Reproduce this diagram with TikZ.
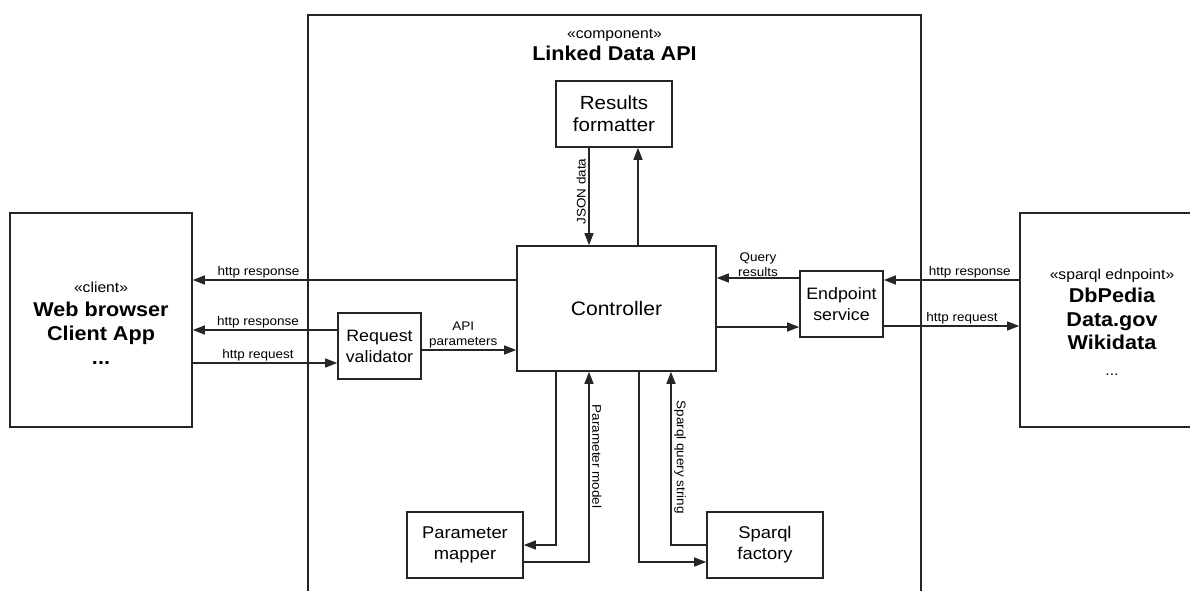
\documentclass[tikz,border=0pt]{standalone}
\usepackage{fontspec}
\setmainfont{Liberation Sans}[FakeStretch=1.08]
\usetikzlibrary{arrows.meta}
\begin{document}
\begin{tikzpicture}[x=1pt,y=-1pt,
  box/.style={draw=black!85, line width=1.6pt, fill=white, align=center,
    inner sep=0pt, font=\fontsize{17}{21}\selectfont},
  frame/.style={draw=black!85, line width=1.6pt, inner sep=0pt},
  arr/.style={draw=black!85, line width=1.3pt, -{Triangle[length=12pt,width=9pt]}},
  lbl/.style={font=\fontsize{12.5}{14}\selectfont, inner sep=1.5pt, align=center},
  vlbl/.style={lbl, anchor=south, inner sep=2.5pt},
]
\useasboundingbox (0,0) rectangle (1190,590);

% component frame (open at the bottom edge of the page)
\node[frame, minimum width=613pt, minimum height=605pt] (api) at (614.5,317.5) {};
\node[align=center, font=\fontsize{14.5}{21}\selectfont] (apititle) at (614.5,45)
  {«component»\\[1pt]{\fontsize{20}{22}\selectfont\bfseries Linked Data API}};

% outer parties
\node[box, minimum width=182pt, minimum height=214pt] (client) at (101,320) {};
\node[align=center, font=\fontsize{20}{24}\selectfont\bfseries] (clienttext) at (101,323)
  {{\fontsize{14.5}{24}\selectfont\mdseries «client»}\\Web browser\\Client App\\...};

\node[box, minimum width=184pt, minimum height=214pt] (sparql) at (1112,320) {};
\node[align=center, font=\fontsize{20}{23.5}\selectfont\bfseries] (sparqltext) at (1112,322)
  {{\fontsize{14.5}{23.5}\selectfont\mdseries «sparql ednpoint»}\\DbPedia\\Data.gov\\Wikidata\\[2pt]{\fontsize{14.5}{23.5}\selectfont\mdseries ...}};

% inner components
\node[box, minimum width=83pt, minimum height=66pt, font=\fontsize{16.5}{21}\selectfont] (reqval) at (379.5,346) {Request\\validator};
\node[box, minimum width=199pt, minimum height=125pt, font=\fontsize{19.5}{22}\selectfont] (ctrl) at (616.5,308.5) {Controller};
\node[box, minimum width=116pt, minimum height=66pt, font=\fontsize{19}{22}\selectfont] (fmt) at (614,114) {Results\\formatter};
\node[box, minimum width=83pt, minimum height=66pt, font=\fontsize{16.5}{21}\selectfont] (endp) at (841.5,304) {Endpoint\\service};
\node[box, minimum width=116pt, minimum height=66pt] (mapper) at (465,545) {Parameter\\mapper};
\node[box, minimum width=116pt, minimum height=66pt] (factory) at (765,545) {Sparql\\factory};

% client side
\draw[arr] (ctrl.west |- 0,280) -- node[lbl, above, pos=0.797] {http response} (client.east |- 0,280);
\draw[arr] (reqval.west |- 0,330) -- node[lbl, above, pos=0.548] {http response} (client.east |- 0,330);
\draw[arr] (client.east |- 0,363) -- node[lbl, above, pos=0.452] {http request} (reqval.west |- 0,363);
\draw[arr] (reqval.east |- 0,350) -- node[lbl, above, pos=0.44, font=\fontsize{12.5}{15}\selectfont] {API\\parameters} (ctrl.west |- 0,350);

% results formatter
\draw[arr] (fmt.south -| 589,0) -- node[vlbl, rotate=90, pos=0.45] {JSON data} (ctrl.north -| 589,0);
\draw[arr] (ctrl.north -| 638,0) -- (fmt.south -| 638,0);

% endpoint side
\draw[arr] (endp.west |- 0,278) -- node[lbl, above, font=\fontsize{12.5}{15}\selectfont, inner sep=1pt] {Query\\results} (ctrl.east |- 0,278);
\draw[arr] (ctrl.east |- 0,327) -- (endp.west |- 0,327);
\draw[arr] (sparql.west |- 0,280) -- node[lbl, above, pos=0.365] {http response} (endp.east |- 0,280);
\draw[arr] (endp.east |- 0,326) -- node[lbl, above, pos=0.577] {http request} (sparql.west |- 0,326);

% parameter mapper and sparql factory
\draw[arr] (ctrl.south -| 556,0) |- (mapper.east);
\draw[arr] (mapper.east |- 0,562) -| node[vlbl, rotate=-90, pos=0.777] {Parameter model} (ctrl.south -| 589,0);
\draw[arr] (ctrl.south -| 639,0) |- (factory.west |- 0,562);
\draw[arr] (factory.west) -| node[vlbl, rotate=-90, pos=0.753] {Sparql query string} (ctrl.south -| 671,0);
\end{tikzpicture}
\end{document}
